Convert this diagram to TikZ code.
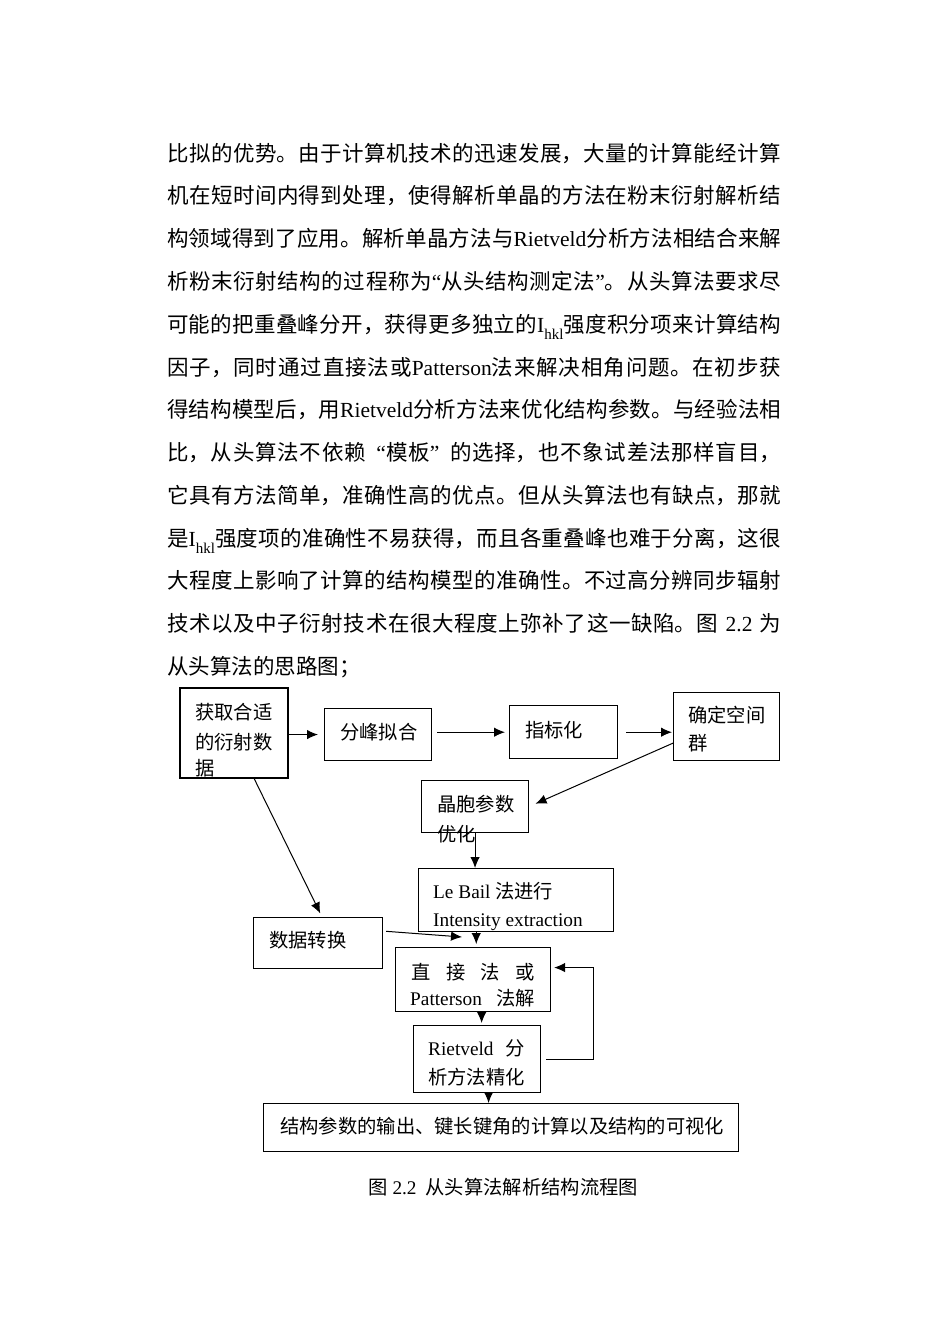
\documentclass[tikz,border=0pt]{standalone}
\usepackage{fontspec}
\setmainfont{Noto Sans CJK SC}
\newfontfamily\lat{Liberation Serif}
\usetikzlibrary{arrows.meta,calc}
\newcommand{\ptxt}{\fontsize{21.5pt}{24pt}\selectfont\XeTeXlinebreaklocale "zh"\XeTeXlinebreakskip=0pt plus 1fil minus 0.6pt\relax}
\newcommand{\jl}[1]{\leftskip=0pt\rightskip=0pt\parfillskip=0pt\tolerance=10000\relax #1\par}
\newcommand{\hkl}{{\lat I}\raisebox{-7pt}{\fontsize{15pt}{15pt}\selectfont\lat hkl}}
\begin{document}
\begin{tikzpicture}[x=1pt,y=-1pt,
  pline/.style={anchor=base west, inner sep=0pt, text width=614pt, font=\ptxt},
  box/.style={draw, line width=1.1pt, inner sep=0pt, anchor=north west},
  fl/.style={anchor=base west, inner sep=0pt, font=\fontsize{19.3pt}{22pt}\selectfont},
  arr/.style={line width=1pt, -{Latex[length=11pt,width=9.5pt]}}]
\useasboundingbox (0,0) rectangle (950,1343);
\fill[white] (0,0) rectangle (950,1343);
% paragraph
\node[pline] (l1) at (167,161.2) {\jl{比拟的优势。由于计算机技术的迅速发展，大量的计算能经计算}};
\node[pline] (l2) at (167,204) {\jl{机在短时间内得到处理，使得解析单晶的方法在粉末衍射解析结}};
\node[pline] (l3) at (167,246.7) {\jl{构领域得到了应用。解析单晶方法与{\lat Rietveld}分析方法相结合来解}};
\node[pline] (l4) at (167,289.5) {\jl{析粉末衍射结构的过程称为{\lat “}从头结构测定法{\lat ”}。从头算法要求尽}};
\node[pline] (l5) at (167,332.2) {\jl{可能的把重叠峰分开，获得更多独立的\hkl 强度积分项来计算结构}};
\node[pline] (l6) at (167,375) {\jl{因子，同时通过直接法或{\lat Patterson}法来解决相角问题。在初步获}};
\node[pline] (l7) at (167,417.7) {\jl{得结构模型后，用{\lat Rietveld}分析方法来优化结构参数。与经验法相}};
\node[pline] (l8) at (167,460.5) {\jl{比，从头算法不依赖\hspace{0.5em}{\lat “}模板{\lat ”}\hspace{0.5em}的选择，也不象试差法那样盲目，}};
\node[pline] (l9) at (167,503.2) {\jl{它具有方法简单，准确性高的优点。但从头算法也有缺点，那就}};
\node[pline] (l10) at (167,546) {\jl{是\hkl 强度项的准确性不易获得，而且各重叠峰也难于分离，这很}};
\node[pline] (l11) at (167,588.7) {\jl{大程度上影响了计算的结构模型的准确性。不过高分辨同步辐射}};
\node[pline] (l12) at (167,631.5) {\jl{技术以及中子衍射技术在很大程度上弥补了这一缺陷。图\ {\lat 2.2}\ 为}};
\node[anchor=base west, inner sep=0pt, font=\fontsize{21.5pt}{24pt}\selectfont] (l13) at (167,674.2) {从头算法的思路图；};
% boxes
\node[box, line width=2pt, minimum width=108pt, minimum height=90pt] (A) at (179,687) {};
\node[box, minimum width=107pt, minimum height=52pt] (B) at (324,708) {};
\node[box, line width=1.4pt, minimum width=108pt, minimum height=53pt] (C) at (509,705) {};
\node[box, minimum width=106pt, minimum height=68pt] (D) at (673,692) {};
\node[box, minimum width=107pt, minimum height=52pt] (E) at (421,780) {};
\node[box, minimum width=195pt, minimum height=63pt] (F) at (418,868) {};
\node[box, minimum width=129pt, minimum height=51pt] (G) at (253,917) {};
\node[box, minimum width=155pt, minimum height=64pt] (H) at (395,947) {};
\node[box, minimum width=127pt, minimum height=67pt] (I) at (413,1025) {};
\node[box, minimum width=475pt, minimum height=48pt] (J) at (263,1103) {};
% box texts
\node[fl] (a1) at (195,719) {获取合适};
\node[fl] (a2) at (195,749) {的衍射数};
\node[fl] (a3) at (195,775) {据};
\node[fl] (b1) at (340,739) {分峰拟合};
\node[fl] (c1) at (525,737) {指标化};
\node[fl] (d1) at (688,722) {确定空间};
\node[fl] (d2) at (688,750) {群};
\node[fl] (e1) at (437,811) {晶胞参数};
\node[fl] (e2) at (437,841) {优化};
\node[fl] (f1) at (433,898) {{\lat Le Bail }法进行};
\node[fl] (f2) at (433,926) {\lat Intensity extraction};
\node[fl] (g1) at (269,947) {数据转换};
\node[fl] (h1) at (411,979) {\hbox to 124pt{直\hfill 接\hfill 法\hfill 或}};
\node[fl] (h2) at (410,1005) {\hbox to 125pt{{\lat Patterson}\hfill 法解}};
\node[fl] (i1) at (428,1055) {\hbox to 97pt{{\lat Rietveld}\hfill 分}};
\node[fl] (i2) at (428,1084) {析方法精化};
\node[fl] (j1) at (280,1133) {结构参数的输出、键长键角的计算以及结构的可视化};
\node[fl] (cap) at (368,1194) {图\hspace{5pt}{\lat 2.2}\hspace{9pt}从头算法解析结构流程图};
% connectors
\coordinate (as) at ($(A.south west)!0.685!(A.south east)$);
\coordinate (dw) at ($(D.south west)!0.26!(D.north west)$);
\coordinate (ge) at ($(G.north east)!0.27!(G.south east)$);
\coordinate (gh) at ($(H.north west)+(67,-10)$);
\coordinate (fh) at ($(F.south west)!0.297!(F.south east)$);
\coordinate (hi) at ($(H.south west)!0.555!(H.south east)$);
\coordinate (ij) at ($(I.south west)!0.59!(I.south east)$);
\draw[arr, shorten >=6pt] (A.east |- B.west) -- (B.west);
\draw[arr, shorten <=5pt, shorten >=4pt] (B.east |- C.west) -- (C.west);
\draw[arr, shorten <=8pt, shorten >=1pt] (C.east) -- (C.east -| D.west);
\draw[arr, shorten >=7pt] (dw) -- (E.east);
\draw[arr] (E.south) -- (E.south |- F.north);
\draw[arr, shorten >=4pt] (as) -- ([xshift=4pt]G.north);
\draw[arr, shorten <=3pt] (ge) -- (gh);
\draw[arr, shorten >=3pt] (fh) -- (fh |- H.north);
\draw[arr, shorten >=2pt] (hi) -- (hi |- I.north);
\draw[arr] ([xshift=5pt]I.east) -- ++(47,0) |- ([xshift=3pt,yshift=12pt]H.east);
\draw[arr] (ij) -- (ij |- J.north);
\end{tikzpicture}
\end{document}
